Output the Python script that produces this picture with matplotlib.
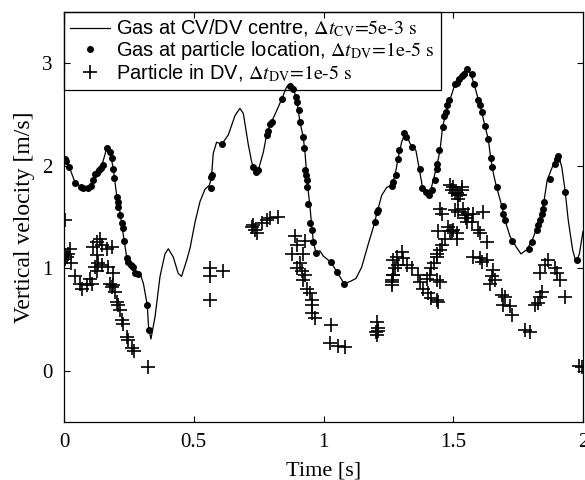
# Vertical velocity of gas and particle vs time (CV/DV comparison)

import matplotlib
matplotlib.use("Agg")
import matplotlib.pyplot as plt

# gas velocity at CV/DV centre (solid line)
t_line = [0.000, 0.004, 0.020, 0.042, 0.068, 0.094, 0.113, 0.126, 0.145, 0.157,
          0.164, 0.177, 0.190, 0.203, 0.213, 0.222, 0.232, 0.242, 0.254, 0.274,
          0.293, 0.306, 0.321, 0.326, 0.335, 0.351, 0.370, 0.389, 0.402, 0.421,
          0.440, 0.453, 0.473, 0.486, 0.505, 0.524, 0.543, 0.560, 0.565, 0.569,
          0.575, 0.588, 0.608, 0.633, 0.659, 0.678, 0.691, 0.710, 0.723, 0.736,
          0.749, 0.768, 0.783, 0.800, 0.820, 0.839, 0.858, 0.871, 0.884, 0.897,
          0.909, 0.922, 0.929, 0.935, 0.941, 0.948, 0.955, 0.961, 0.971, 0.986,
          0.999, 1.028, 1.053, 1.079, 1.102, 1.125, 1.147, 1.173, 1.192, 1.205,
          1.224, 1.244, 1.263, 1.276, 1.288, 1.301, 1.314, 1.323, 1.340, 1.356,
          1.369, 1.382, 1.395, 1.408, 1.423, 1.436, 1.449, 1.459, 1.472, 1.487,
          1.507, 1.526, 1.539, 1.554, 1.567, 1.580, 1.597, 1.610, 1.622, 1.635,
          1.644, 1.655, 1.667, 1.687, 1.699, 1.719, 1.742, 1.761, 1.783, 1.802,
          1.822, 1.837, 1.850, 1.862, 1.879, 1.892, 1.905, 1.918, 1.931, 1.943,
          1.960, 1.973, 1.986, 1.997, 2.000]
v_line = [2.09, 2.07, 1.99, 1.84, 1.79, 1.79, 1.86, 1.93, 2.00, 2.10,
          2.17, 2.14, 1.97, 1.71, 1.60, 1.43, 1.27, 1.10, 1.03, 0.95,
          0.95, 0.85, 0.64, 0.42, 0.31, 0.53, 0.92, 1.14, 1.19, 1.11,
          0.95, 0.92, 1.08, 1.20, 1.45, 1.65, 1.77, 1.81, 1.85, 1.91,
          2.12, 2.23, 2.21, 2.30, 2.49, 2.56, 2.51, 2.21, 2.04, 1.94,
          1.96, 2.13, 2.33, 2.43, 2.54, 2.65, 2.77, 2.79, 2.75, 2.64,
          2.43, 2.28, 2.12, 1.92, 1.76, 1.60, 1.40, 1.26, 1.15, 1.17,
          1.12, 1.06, 0.96, 0.85, 0.87, 0.90, 1.01, 1.24, 1.40, 1.53,
          1.71, 1.79, 1.81, 1.91, 2.08, 2.23, 2.32, 2.28, 2.18, 2.15,
          1.97, 1.78, 1.74, 1.71, 1.86, 1.99, 2.15, 2.38, 2.52, 2.64,
          2.80, 2.86, 2.91, 2.94, 2.90, 2.80, 2.64, 2.52, 2.39, 2.26,
          2.08, 1.92, 1.79, 1.61, 1.47, 1.31, 1.21, 1.14, 1.18, 1.26,
          1.39, 1.52, 1.66, 1.86, 1.97, 2.05, 2.10, 1.99, 1.76, 1.47,
          1.18, 1.06, 1.14, 1.31, 1.36]

# gas velocity at particle location (dots)
t_dots = [0.004, 0.008, 0.020, 0.042, 0.064, 0.072, 0.094, 0.103, 0.113, 0.119,
          0.128, 0.136, 0.141, 0.149, 0.164, 0.177, 0.184, 0.190, 0.194, 0.203,
          0.207, 0.209, 0.216, 0.222, 0.229, 0.232, 0.242, 0.248, 0.257, 0.265,
          0.274, 0.284, 0.321, 0.326,
          0.565, 0.565, 0.569, 0.610, 0.730, 0.739, 0.746, 0.781, 0.787, 0.794,
          0.800, 0.839, 0.871, 0.884, 0.894, 0.899, 0.906, 0.909, 0.920, 0.925,
          0.929, 0.933, 0.935, 0.938, 0.941, 0.948, 0.955, 0.961, 0.971,
          1.028, 1.053, 1.079, 1.198, 1.205, 1.211, 1.263, 1.269, 1.279, 1.286,
          1.291, 1.310, 1.318, 1.340, 1.372, 1.378, 1.395, 1.408, 1.417, 1.430,
          1.436, 1.439, 1.446, 1.459, 1.464, 1.472, 1.477, 1.485,
          1.507, 1.516, 1.523, 1.533, 1.541, 1.554, 1.571, 1.580, 1.597, 1.603,
          1.610, 1.622, 1.635, 1.644, 1.648, 1.667, 1.690, 1.693, 1.699, 1.725,
          1.790, 1.802, 1.822, 1.828, 1.834, 1.841, 1.847, 1.851, 1.873, 1.892,
          1.899, 1.905, 1.931, 1.976]
v_dots = [2.07, 2.05, 1.99, 1.83, 1.79, 1.78, 1.78, 1.80, 1.86, 1.92,
          1.93, 1.96, 1.98, 2.01, 2.17, 2.13, 2.08, 1.97, 1.88, 1.70,
          1.65, 1.60, 1.52, 1.44, 1.39, 1.27, 1.10, 1.06, 1.03, 1.01,
          0.95, 0.94, 0.64, 0.40,
          1.89, 1.78, 1.91, 2.21, 1.99, 1.94, 1.96, 2.30, 2.34, 2.41,
          2.43, 2.65, 2.78, 2.75, 2.67, 2.62, 2.54, 2.43, 2.28, 2.17,
          1.96, 1.91, 1.86, 1.79, 1.63, 1.44, 1.37, 1.26, 1.15,
          1.06, 0.96, 0.85, 1.45, 1.55, 1.57, 1.80, 1.84, 1.91, 2.07,
          2.15, 2.32, 2.28, 2.18, 1.97, 1.78, 1.74, 1.71, 1.76, 1.86,
          1.97, 2.02, 2.15, 2.38, 2.49, 2.52, 2.59, 2.64,
          2.80, 2.81, 2.85, 2.88, 2.90, 2.94, 2.90, 2.80, 2.64, 2.59,
          2.52, 2.39, 2.26, 2.08, 1.99, 1.79, 1.61, 1.53, 1.47, 1.27,
          1.19, 1.26, 1.37, 1.42, 1.47, 1.53, 1.58, 1.65, 1.87, 2.02,
          2.07, 2.10, 1.74, 1.08]

# particle velocity in DV (crosses)
t_part = [0.004, 0.000, 0.004, 0.010, 0.017, 0.004, 0.023, 0.026, 0.042, 0.062,
          0.068, 0.087, 0.107, 0.126, 0.139, 0.145, 0.113, 0.164, 0.184, 0.126,
          0.119, 0.132, 0.145, 0.171, 0.126, 0.100, 0.177, 0.190, 0.184, 0.190,
          0.197, 0.203, 0.209, 0.216, 0.222, 0.229, 0.242, 0.248, 0.261, 0.270,
          0.325,
          0.563, 0.563, 0.614, 0.563, 0.723, 0.736, 0.743, 0.730, 0.762, 0.781,
          0.794, 0.826, 0.890, 0.929, 0.897, 0.877, 0.922, 0.909, 0.897, 0.916,
          0.929, 0.922, 0.935, 0.948, 0.955, 0.955, 0.955, 0.967,
          1.028, 1.025, 1.057, 1.083, 1.205, 1.202, 1.205, 1.211, 1.211,
          1.263, 1.269, 1.269, 1.282, 1.301, 1.308, 1.288, 1.276, 1.320, 1.340,
          1.269, 1.263, 1.263, 1.366, 1.372, 1.384, 1.403, 1.416, 1.436, 1.443,
          1.398, 1.410, 1.416, 1.424, 1.436, 1.436, 1.449, 1.436, 1.449, 1.456,
          1.443, 1.468, 1.481, 1.487, 1.513, 1.500, 1.449, 1.456, 1.487, 1.494,
          1.507, 1.520, 1.520, 1.533, 1.507, 1.520, 1.539, 1.545, 1.552,
          1.500, 1.533, 1.513, 1.526, 1.558, 1.578, 1.616, 1.550, 1.571, 1.494,
          1.513, 1.597, 1.603, 1.629, 1.578, 1.603, 1.610, 1.629, 1.655, 1.648,
          1.642, 1.661, 1.687, 1.699, 1.693, 1.719, 1.725, 1.776, 1.796, 1.815,
          1.828, 1.834, 1.841, 1.866, 1.853, 1.892, 1.899, 1.911, 1.931, 1.834,
          1.985, 1.995]
v_part = [1.47, 1.16, 1.13, 1.11, 1.14, 1.09, 1.19, 1.05, 0.92, 0.85,
          0.80, 0.84, 0.85, 1.26, 1.29, 1.23, 1.21, 1.19, 1.21, 1.13,
          1.01, 1.05, 1.03, 1.01, 0.97, 0.90, 0.85, 0.84, 0.82, 0.95,
          0.77, 0.67, 0.64, 0.59, 0.50, 0.46, 0.33, 0.30, 0.22, 0.19,
          0.04,
          1.00, 0.92, 0.97, 0.69, 1.40, 1.37, 1.34, 1.42, 1.44, 1.47,
          1.49, 1.50, 1.31, 1.27, 1.23, 1.14, 1.14, 1.05, 1.00, 0.97,
          0.93, 0.89, 0.80, 0.76, 0.69, 0.64, 0.56, 0.51,
          0.45, 0.27, 0.24, 0.23, 0.48, 0.38, 0.35, 0.42, 0.39,
          0.89, 0.93, 1.08, 1.11, 1.16, 1.10, 1.03, 1.00, 1.03, 1.00,
          0.93, 0.87, 0.84, 0.93, 0.87, 0.80, 0.76, 0.71, 0.69, 0.67,
          0.90, 0.93, 1.00, 1.05, 1.11, 1.14, 1.18, 0.89, 0.87, 1.23,
          1.36, 1.29, 1.40, 1.36, 1.34, 1.37, 1.58, 1.53, 1.81, 1.76,
          1.73, 1.71, 1.68, 1.76, 1.57, 1.55, 1.58, 1.52, 1.45,
          1.79, 1.79, 1.73, 1.71, 1.53, 1.53, 1.55, 1.49, 1.45, 1.36,
          1.29, 1.37, 1.34, 1.26, 1.11, 1.10, 1.06, 1.08, 0.98, 0.92,
          0.85, 0.89, 0.74, 0.72, 0.64, 0.63, 0.54, 0.40, 0.38, 0.64,
          0.66, 0.72, 0.77, 1.08, 1.03, 1.00, 0.95, 0.89, 0.72, 0.95,
          0.05, 0.04]

x_ticks = [0, 0.5, 1, 1.5, 2]
x_tick_labels = ["0", "0.5", "1", "1.5", "2"]
y_ticks = [0, 1, 2, 3]

plt.rcParams["mathtext.fontset"] = "stix"

fig = plt.figure(figsize=(5.85, 4.8), dpi=100)
ax = fig.add_axes([64 / 585, 58 / 480, 519 / 585, 410 / 480])

ax.plot(t_line, v_line, "-", color="k", linewidth=0.9,
        label=r"Gas at CV/DV centre, $\Delta t_{\mathrm{CV}}\text{=5e-3 s}$")
ax.plot(t_dots, v_dots, "o", color="k", markersize=4, linestyle="none",
        label=r"Gas at particle location, $\Delta t_{\mathrm{DV}}\text{=1e-5 s}$")
ax.plot(t_part, v_part, "+", color="k", markersize=10, markeredgewidth=1.2,
        linestyle="none", label=r"Particle in DV, $\Delta t_{\mathrm{DV}}\text{=1e-5 s}$")

ax.set_xlim(0, 2)
ax.set_ylim(-0.5, 3.5)
ax.set_xticks(x_ticks)
ax.set_xticklabels(x_tick_labels)
ax.set_yticks(y_ticks)
ax.tick_params(direction="in", top=True, right=True, length=4.5, width=0.8,
               labelsize=15, pad=8)
for lab in ax.get_xticklabels() + ax.get_yticklabels():
    lab.set_family("Liberation Serif")
for sp in ax.spines.values():
    sp.set_linewidth(0.9)

ax.set_xlabel("Time [s]", fontsize=16, family="Liberation Serif", labelpad=7)
ax.set_ylabel("Vertical velocity [m/s]", fontsize=17, family="Liberation Serif", labelpad=5)

# transparent legend box: the curve peak shows through, as in the original
leg = ax.legend(loc="upper left", borderaxespad=0, fancybox=False, edgecolor="k",
                facecolor="none", framealpha=1,
                prop={"family": "Liberation Sans", "size": 14.4},
                handlelength=2.0, handletextpad=0.3, labelspacing=0.0,
                borderpad=0.3)
leg.get_frame().set_linewidth(0.9)

fig.savefig("out.png", dpi=100)
